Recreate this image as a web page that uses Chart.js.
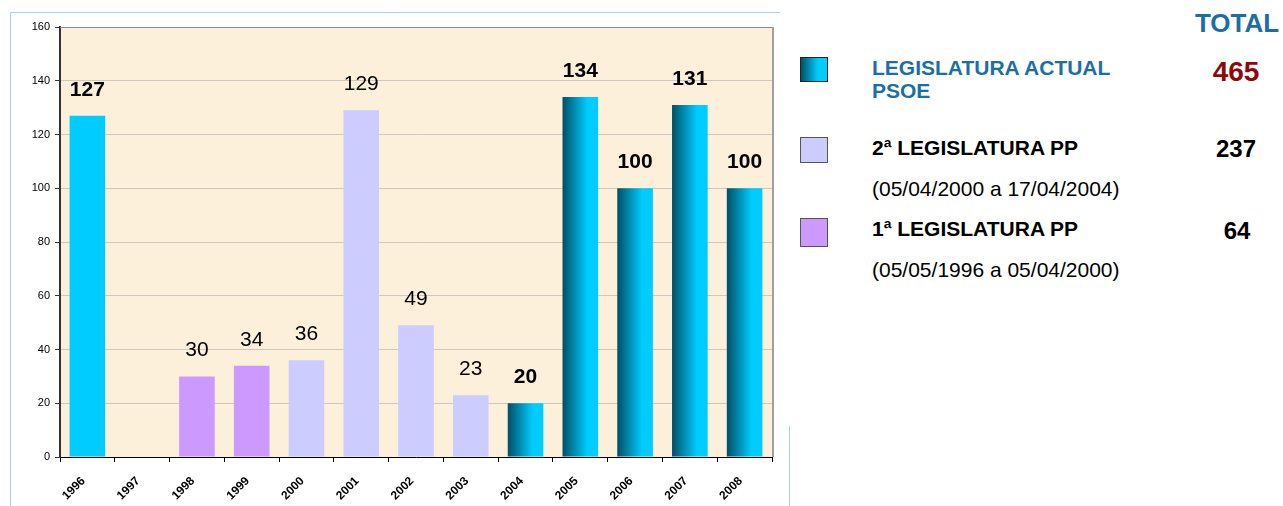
<!DOCTYPE html>
<html>
<head>
<meta charset="utf-8">
<script src="https://cdn.jsdelivr.net/npm/chart.js@4/dist/chart.umd.min.js"></script>
<style>
  body { margin:0; width:1283px; height:506px; background:#fff; position:relative; overflow:hidden;
         font-family:"Liberation Sans", Arial, sans-serif; }
  #wrap { position:absolute; left:0; top:0; width:790px; height:506px; }
  .t { position:absolute; line-height:1; white-space:nowrap; }
  .sw { position:absolute; box-sizing:border-box; }
</style>
</head>
<body>
<div id="wrap"><canvas id="chart" width="790" height="506"></canvas></div>
<div id="legend"></div>
<script>
/* datos */
const anios = ["1996","1997","1998","1999","2000","2001","2002","2003","2004","2005","2006","2007","2008"];
const preguntas = [127, null, 30, 34, 36, 129, 49, 23, 20, 134, 100, 131, 100];
// legislatura de cada barra
const grupos = ["psoe96","pp1","pp1","pp1","pp2","pp2","pp2","pp2","psoe","psoe","psoe","psoe","psoe"];
const ejeY = [0, 20, 40, 60, 80, 100, 120, 140, 160];

const leyendaTitulos = ["LEGISLATURA ACTUAL", "2ª LEGISLATURA PP", "1ª LEGISLATURA PP"];
const leyendaFechas = ["PSOE", "(05/04/2000 a 17/04/2004)", "(05/05/1996 a 05/04/2000)"];
const leyendaTotales = [465, 237, 64];

const COLORES = { psoe96:"#00CCFF", pp1:"#CC99FF", pp2:"#CCCCFF" };

function barColor(ctx){
  const g = grupos[ctx.dataIndex];
  if (g !== "psoe") return COLORES[g];
  const chart = ctx.chart, x = chart.scales && chart.scales.x;
  if (!x || !chart.chartArea) return "#00CCFF";
  const cx = x.getPixelForValue(ctx.dataIndex);
  const w = (x.width / anios.length) * 0.65;
  const gr = chart.ctx.createLinearGradient(cx - w/2, 0, cx + w/2, 0);
  gr.addColorStop(0, "#004F66");
  gr.addColorStop(0.7, "#00CCFF");
  gr.addColorStop(1, "#00CCFF");
  return gr;
}

/* fondo del area, marco y etiquetas */
const decor = {
  id: "decor",
  beforeDraw(chart){
    const {ctx, chartArea:a} = chart;
    ctx.save();
    ctx.fillStyle = "#FCF0DA";
    ctx.fillRect(a.left, a.top, a.right - a.left, a.bottom - a.top);
    ctx.restore();
  },
  afterDatasetsDraw(chart){
    const {ctx, chartArea:a} = chart;
    const meta = chart.getDatasetMeta(0);
    ctx.save();
    ctx.textAlign = "center";
    ctx.textBaseline = "alphabetic";
    ctx.fillStyle = "#000";
    meta.data.forEach((bar, i) => {
      const v = preguntas[i];
      if (v === null || v === 0) return;
      const bold = grupos[i] === "psoe" || grupos[i] === "psoe96";
      ctx.font = (bold ? "bold " : "") + "21px 'Liberation Sans', Arial, sans-serif";
      ctx.fillText(String(v), bar.x, bar.y - 20);
    });
    // borde superior y derecho del area
    ctx.strokeStyle = "#8a8a8a"; ctx.lineWidth = 1;
    ctx.beginPath(); ctx.moveTo(a.left, a.top + 0.5); ctx.lineTo(a.right, a.top + 0.5); ctx.stroke();
    ctx.strokeStyle = "#a0a0a0"; ctx.lineWidth = 2;
    ctx.beginPath(); ctx.moveTo(a.right + 1, a.top); ctx.lineTo(a.right + 1, a.bottom); ctx.stroke();
    // marco azul claro
    ctx.strokeStyle = "#A8D0FF"; ctx.lineWidth = 1;
    ctx.beginPath();
    ctx.moveTo(10.5, 506); ctx.lineTo(10.5, 12.5); ctx.lineTo(780, 12.5);
    ctx.moveTo(789.5, 426); ctx.lineTo(789.5, 506);
    ctx.stroke();
    ctx.restore();
  }
};

new Chart(document.getElementById("chart"), {
  type: "bar",
  data: {
    labels: anios,
    datasets: [{ data: preguntas, backgroundColor: barColor, borderWidth: 0,
                 barPercentage: 0.65, categoryPercentage: 1 }]
  },
  options: {
    responsive: false,
    animation: false,
    layout: { padding: { top: 27, right: 18, left: 0, bottom: 0 } },
    plugins: { legend: { display: false }, tooltip: { enabled: false } },
    scales: {
      x: {
        grid: { drawOnChartArea: false, tickLength: 5, color: "#000", tickColor: "#000", offset: true },
        border: { color: "#000", width: 1 },
        ticks: { color: "#000", font: { size: 12, weight: "bold", family: "'Liberation Sans', Arial" },
                 maxRotation: 45, minRotation: 45, padding: 12, labelOffset: -4, autoSkip: false },
        afterFit(s){ s.height = 49; }
      },
      y: {
        min: 0, max: 160,
        afterBuildTicks(s){ s.ticks = ejeY.map(v => ({ value: v })); },
        grid: { color: "rgba(150,150,150,0.45)", tickColor: "#333", tickLength: 5 },
        border: { color: "#333", width: 2 },
        ticks: { color: "#000", font: { size: 11, family: "'Liberation Sans', Arial" }, padding: 5 },
        afterFit(s){ s.width = 60; }
      }
    }
  },
  plugins: [decor]
});

/* leyenda a la derecha */
const legend = document.getElementById("legend");
function addText(txt, left, top, size, color, bold, center){
  const d = document.createElement("div");
  d.className = "t";
  d.textContent = txt;
  d.style.left = left + "px"; d.style.top = top + "px";
  d.style.fontSize = size + "px"; d.style.color = color;
  d.style.fontWeight = bold ? "bold" : "normal";
  if (center) { d.style.transform = "translateX(-50%)"; }
  legend.appendChild(d);
}
function addSwatch(top, h, bg, border){
  const d = document.createElement("div");
  d.className = "sw";
  d.style.left = "800px"; d.style.top = top + "px";
  d.style.width = "28px"; d.style.height = h + "px";
  d.style.background = bg; d.style.border = "1.5px solid " + border;
  legend.appendChild(d);
}
addText("TOTAL", 1237, 9.5, 26, "#1B6FA5", true, true);

addSwatch(57, 25, "linear-gradient(to right, #004F66, #00CCFF 65%, #00CCFF)", "#222");
addText(leyendaTitulos[0], 872, 57, 21, "#1B6FA5", true);
addText(leyendaFechas[0], 872, 80, 21, "#1B6FA5", true);
addText(String(leyendaTotales[0]), 1236, 58, 28, "#8B0A0A", true, true);

addSwatch(137, 26, "#CCCCFF", "#555");
addText(leyendaTitulos[1], 872, 137, 21, "#000", true);
addText(leyendaFechas[1], 872, 178, 21, "#000", false);
addText(String(leyendaTotales[1]), 1236, 137, 24, "#000", true, true);

addSwatch(218, 29, "#CC99FF", "#555");
addText(leyendaTitulos[2], 872, 218, 21, "#000", true);
addText(leyendaFechas[2], 872, 259, 21, "#000", false);
addText(String(leyendaTotales[2]), 1237, 219, 24, "#000", true, true);
</script>
</body>
</html>
